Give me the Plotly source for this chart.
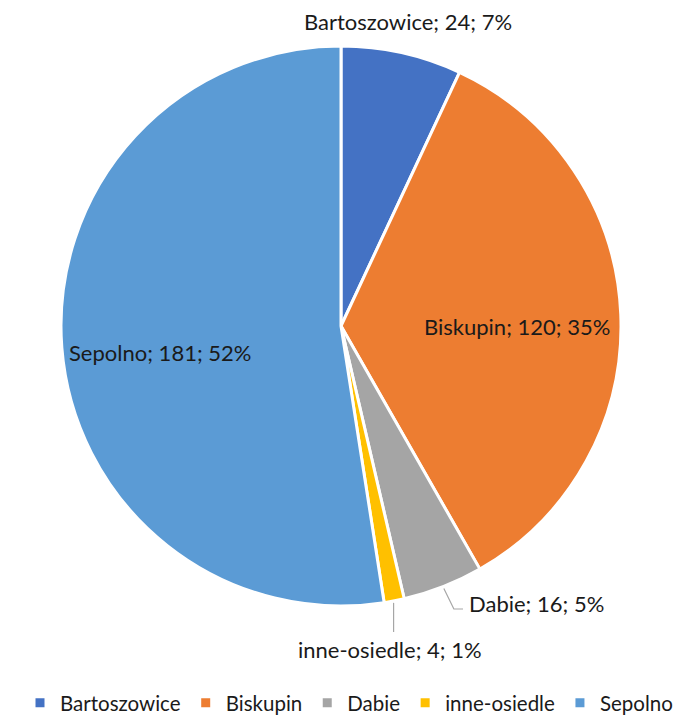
import math
import plotly.graph_objects as go

categories = ["Bartoszowice", "Biskupin", "Dabie", "inne-osiedle", "Sepolno"]
values = [24, 120, 16, 4, 181]
colors = ["#4472C4", "#ED7D31", "#A5A5A5", "#FFC000", "#5B9BD5"]

# the figure is offset by the page body margin (8px); work in screen pixels
W, H = 682, 715
OFF = 8
FONT = "Lato, Carlito, Calibri, sans-serif"
TXT = "#1a1a1a"

def px(sx):
    return (sx - OFF) / W

def py(sy):
    return (H + OFF - sy) / H

# pie geometry (screen px)
CX, CY, R = 341, 326, 280

fig = go.Figure(go.Pie(
    labels=categories,
    values=values,
    sort=False,
    direction="clockwise",
    rotation=0,
    marker=dict(colors=colors, line=dict(color="white", width=3)),
    textinfo="none",
    domain=dict(x=[px(CX - R), px(CX + R)], y=[py(CY + R), py(CY - R)]),
    hoverinfo="label+value+percent",
))

total = sum(values)
mid_angles = []
acc = 0
for v in values:
    mid_angles.append((acc + v / 2) / total * 2 * math.pi)
    acc += v

def edge(i, rr=R):
    a = mid_angles[i]
    return CX + rr * math.sin(a), CY - rr * math.cos(a)

# label placement (screen px): (x, y, xanchor)
label_pos = {
    0: (408, 22, "center"),
    1: (517, 326, "center"),
    2: (467, 603, "left"),
    3: (390, 649, "center"),
    4: (160, 352, "center"),
}

annotations = []
for i, (lab, v) in enumerate(zip(categories, values)):
    x, y, xa = label_pos[i]
    pct = round(100 * v / total)
    annotations.append(dict(
        x=px(x), y=py(y), xref="paper", yref="paper",
        xanchor=xa, yanchor="middle",
        text=f"{lab}; {v}; {pct}%", showarrow=False,
        font=dict(family=FONT, size=22, color=TXT),
    ))

shapes = []
# leader line Dabie (elbow)
ex, ey = edge(2, R + 2)
path = f"M {px(ex)} {py(ey)} L {px(ex + 10)} {py(609)} L {px(463)} {py(609)}"
shapes.append(dict(type="path", path=path, xref="paper", yref="paper",
                   line=dict(color="#A6A6A6", width=1.2)))
# leader line inne-osiedle (vertical)
ex, ey = edge(3, R + 2)
shapes.append(dict(type="line", x0=px(ex - 1), y0=py(ey), x1=px(ex - 1), y1=py(632),
                   xref="paper", yref="paper",
                   line=dict(color="#A6A6A6", width=1.2)))

fig.update_layout(
    width=W, height=H,
    margin=dict(l=0, r=0, t=0, b=0),
    paper_bgcolor="white",
    plot_bgcolor="white",
    showlegend=True,
    annotations=annotations,
    shapes=shapes,
    legend=dict(
        orientation="h",
        x=0.5, xanchor="center",
        y=0, yanchor="bottom",
        font=dict(family=FONT, size=20.5, color=TXT),
        bgcolor="rgba(0,0,0,0)",
        traceorder="normal",
    ),
)

fig.write_html("out.html")
